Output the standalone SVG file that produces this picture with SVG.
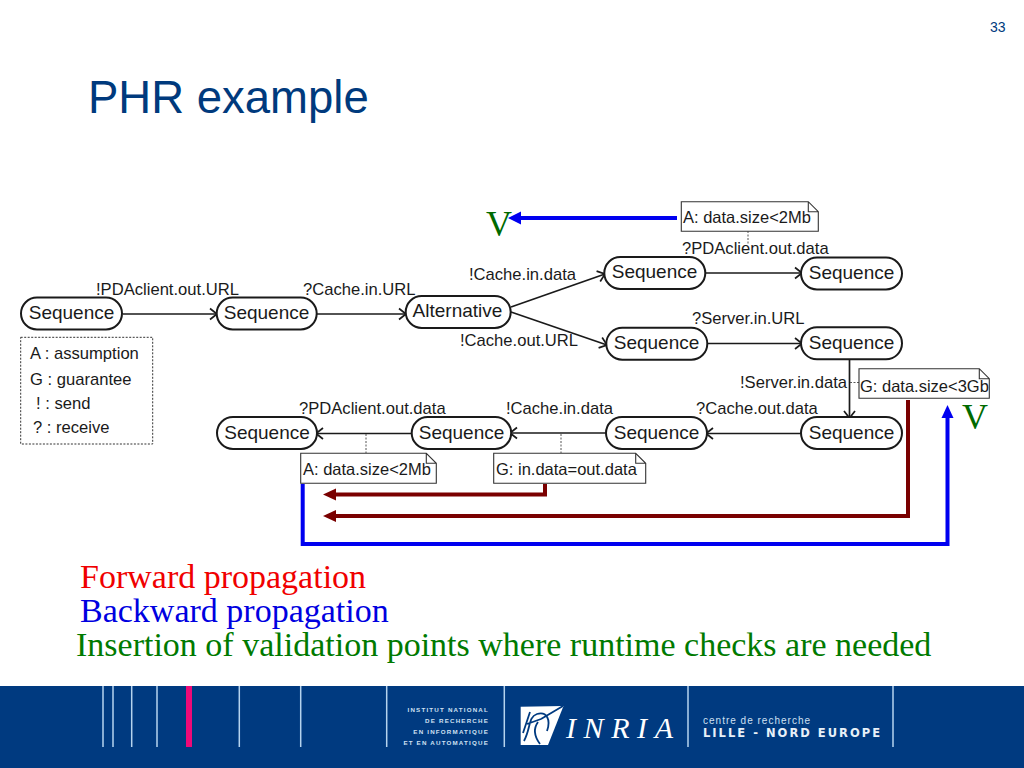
<svg xmlns="http://www.w3.org/2000/svg" width="1024" height="768" viewBox="0 0 1024 768">
<style>
text{font-family:"Liberation Sans",Arial,sans-serif;fill:#1a1a1a}
.n rect{fill:#fff;stroke:#1a1a1a;stroke-width:2}
.n text{font-size:19px;text-anchor:middle}
.l{font-size:16.6px}
.nt path{fill:#fff;stroke:#333;stroke-width:1.1}
.nt text{font-size:16.5px}
.c{fill:none;stroke:#1a1a1a;stroke-width:1.7;marker-end:url(#o)}
.d{fill:none;stroke:#555;stroke-width:1;stroke-dasharray:2 1.5}
.b{fill:none;stroke:#0000f0;stroke-width:4}
.r{fill:none;stroke:#7a0000;stroke-width:4}
.s{font-family:"Liberation Serif","Times New Roman",serif;font-size:34px}
.f{fill:#cfe0f2;font-size:6.2px;font-weight:bold;letter-spacing:1.2px;text-anchor:end}
.v{stroke:#b5d3ee;stroke-width:1.5}
</style>
<defs>
<marker id="o" markerUnits="userSpaceOnUse" markerWidth="14" markerHeight="16" refX="11" refY="7" orient="auto" overflow="visible"><path d="M4 1.500 L11 7 L4 12.500" fill="none" stroke="#1a1a1a" stroke-width="1.7"/></marker>
</defs>
<rect width="1024" height="768" fill="#fff"/>
<text x="990" y="32" style="font-size:14px;fill:#003a7d">33</text>
<text x="88" y="113" style="font-size:45.500px;fill:#003a7d">PHR example</text>

<g id="connectors">
<path class="c" d="M123 314H217"/>
<path class="c" d="M317 314H406"/>
<path class="c" d="M511 307L605 274"/>
<path class="c" d="M511 312L607 345"/>
<path class="c" d="M705 273H802"/>
<path class="c" d="M707 343.500H802"/>
<path class="c" d="M849.500 359V418"/>
<path class="c" d="M801 433.500H706"/>
<path class="c" d="M606 433H510"/>
<path class="c" d="M412 433.500H316"/>
<path class="d" d="M748 231V244"/>
<path class="d" d="M850 382.500H859"/>
<path class="d" d="M366 434V453"/>
<path class="d" d="M561 434V453"/>
<path class="b" d="M677 218H520"/>
<path d="M508 218L521 211.500V224.500Z" fill="#0000f0"/>
<path class="b" d="M302.700 484V544H947.500V417"/>
<path d="M947.500 405L953.500 418H941.500Z" fill="#0000f0"/>
<path class="r" d="M908 400V516H334"/>
<path d="M323 516L336 510V522Z" fill="#7a0000"/>
<path class="r" d="M545 484V494.500H334"/>
<path d="M323 494.500L336 488.500V500.500Z" fill="#7a0000"/>
</g>

<g id="legend">
<rect x="20.700" y="337.300" width="132" height="106.700" fill="#fff" stroke="#333" stroke-width="1" stroke-dasharray="2 1.500"/>
<text class="l" x="30" y="359">A : assumption</text>
<text class="l" x="30" y="385">G : guarantee</text>
<text class="l" x="36" y="409">! : send</text>
<text class="l" x="33" y="433">? : receive</text>
</g>

<g id="n1" class="n"><rect x="21" y="297.500" width="101" height="32" rx="16"/><text x="71.500" y="319">Sequence</text></g>
<g id="n2" class="n"><rect x="216.700" y="297.500" width="100" height="32" rx="16"/><text x="266.500" y="319">Sequence</text></g>
<g id="n3" class="n"><rect x="405.700" y="296" width="105" height="32" rx="16"/><text x="457.500" y="317">Alternative</text></g>
<g id="n4" class="n"><rect x="604.300" y="257" width="101" height="32" rx="16"/><text x="654.500" y="278">Sequence</text></g>
<g id="n5" class="n"><rect x="801" y="257.500" width="101" height="32" rx="16"/><text x="851.500" y="279">Sequence</text></g>
<g id="n6" class="n"><rect x="606.300" y="327.700" width="101" height="32" rx="16"/><text x="656.500" y="349">Sequence</text></g>
<g id="n7" class="n"><rect x="801" y="327.300" width="101" height="32" rx="16"/><text x="851.500" y="349">Sequence</text></g>
<g id="n8" class="n"><rect x="801" y="417" width="101" height="32" rx="16"/><text x="851.500" y="439">Sequence</text></g>
<g id="n9" class="n"><rect x="606" y="417" width="101" height="32" rx="16"/><text x="656.500" y="439">Sequence</text></g>
<g id="n10" class="n"><rect x="411.700" y="417" width="99.500" height="32" rx="16"/><text x="461.500" y="439">Sequence</text></g>
<g id="n11" class="n"><rect x="217" y="417" width="100" height="32" rx="16"/><text x="267" y="439">Sequence</text></g>

<g id="note1" class="nt"><path d="M681.300 201.700H808.300L818.300 211.700V231.300H681.300ZM808.300 201.700V211.700H818.300"/><text x="683" y="223">A: data.size&lt;2Mb</text></g>
<g id="note2" class="nt"><path d="M859 368.700H979.300L989.300 378.700V398.300H859ZM979.300 368.700V378.700H989.300"/><text x="860" y="392">G: data.size&lt;3Gb</text></g>
<g id="note3" class="nt"><path d="M300.700 453.300H426.300L436.300 463.300V483.300H300.700ZM426.300 453.300V463.300H436.300"/><text x="303" y="475">A: data.size&lt;2Mb</text></g>
<g id="note4" class="nt"><path d="M493.700 453.300H635.700L645.700 463.300V483.300H493.700ZM635.700 453.300V463.300H645.700"/><text x="496" y="475">G: in.data=out.data</text></g>

<g id="labels">
<text class="l" x="96" y="295">!PDAclient.out.URL</text>
<text class="l" x="303" y="295">?Cache.in.URL</text>
<text class="l" x="469" y="280">!Cache.in.data</text>
<text class="l" x="460" y="346">!Cache.out.URL</text>
<text class="l" x="682" y="254">?PDAclient.out.data</text>
<text class="l" x="692" y="324">?Server.in.URL</text>
<text class="l" x="740" y="388">!Server.in.data</text>
<text class="l" x="696" y="414">?Cache.out.data</text>
<text class="l" x="506" y="414">!Cache.in.data</text>
<text class="l" x="299" y="414">?PDAclient.out.data</text>
</g>

<text class="s" x="486" y="236" style="font-size:36px;fill:#006a00">V</text>
<text class="s" x="962" y="429" style="font-size:36px;fill:#006a00">V</text>
<text class="s" x="80" y="588" style="fill:#f00000">Forward propagation</text>
<text class="s" x="80" y="622" style="fill:#0000e0">Backward propagation</text>
<text class="s" x="76" y="656" style="fill:#007a00">Insertion of validation points where runtime checks are needed</text>

<g id="footer">
<rect y="686" width="1024" height="82" fill="#003a80"/>
<path class="v" d="M103 686V747M113 686V747M131.700 686V747M157 686V747M239.300 686V747M300.700 686V747M386.700 686V747M504.300 686V747M688 686V747M893 686V747"/>
<rect x="186" y="686" width="6" height="61" fill="#ee0a78"/>
<text class="f" x="489" y="711.500">INSTITUT NATIONAL</text>
<text class="f" x="489" y="722.500">DE RECHERCHE</text>
<text class="f" x="489" y="733.500">EN INFORMATIQUE</text>
<text class="f" x="489" y="745">ET EN AUTOMATIQUE</text>
<path d="M520.700 706.700L563.500 706L548 745H520.700Z" fill="#fff"/>
<path d="M524 741C531 728 528 717 537 714C547 711 551 720 547 731M563 706L541 719M538 722C533 729 534 736 540 744M530 712L523 733M541 719L527 724" fill="none" stroke="#003a80" stroke-width="1.800"/>
<text x="566" y="738" textLength="107" style="font-family:'Liberation Serif',serif;font-style:italic;font-size:30px;fill:#fff">INRIA</text>
<text x="703" y="724" textLength="107" style="font-size:10px;fill:#cfe0f2">centre de recherche</text>
<text x="703" y="737" textLength="177" style="font-family:'DejaVu Sans',sans-serif;font-weight:bold;font-size:11.500px;fill:#e8f0f8">LILLE - NORD EUROPE</text>
</g>
</svg>
